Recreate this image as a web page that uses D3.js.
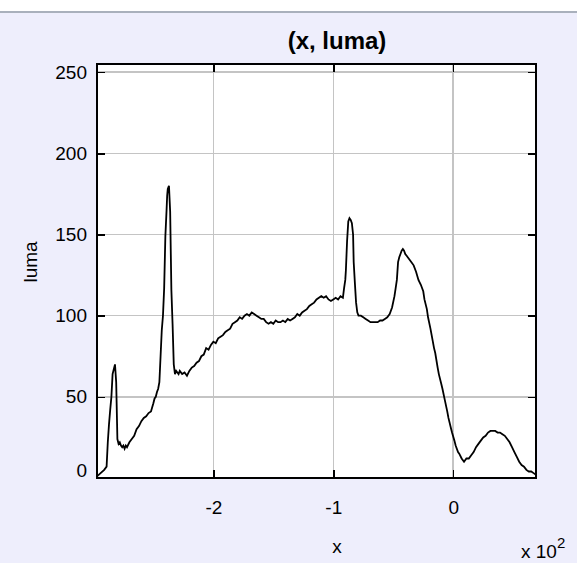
<!DOCTYPE html>
<html>
<head>
<meta charset="utf-8">
<script src="https://cdn.jsdelivr.net/npm/d3@7"></script>
<style>
  html, body { margin: 0; padding: 0; background: #ffffff; }
  svg { display: block; }
  text { font-family: "Liberation Sans", Arial, sans-serif; fill: #000; }
</style>
</head>
<body>
<svg id="chart" width="577" height="563"></svg>
<script>
// Luma profile sampled along x (x in units, shown on the axis as x 10^2)
const xValues = [
  -297, -294, -291, -289, -288, -287, -286, -285, -284, -283, -282, -281, -280, -279, -278, -277,
  -276, -275, -274, -273, -272, -270, -268, -266, -264, -262, -260, -258, -256, -254, -252, -250,
  -249, -248, -247, -246, -245, -244, -243, -242, -241, -240, -239, -238.5, -238, -237, -236, -235,
  -234, -233, -232, -231, -230, -229, -228, -226, -224, -222, -220, -218, -216, -214, -212, -210,
  -208, -206, -204, -202, -200, -198, -196, -194, -192, -190, -188, -186, -184, -182, -180, -178,
  -176, -174, -172, -170, -168, -166, -164, -162, -160, -158, -156, -154, -152, -150, -148, -146,
  -144, -142, -140, -138, -136, -134, -132, -130, -128, -126, -124, -122, -120, -118, -116, -114,
  -112, -110, -108, -106, -104, -102, -100, -98, -96, -94, -92, -91, -90, -89.5, -88.5, -87.5,
  -86.5, -85.5, -84.5, -83.5, -83, -82, -81, -80, -79, -77, -75, -73, -71, -69, -67, -65,
  -63, -61, -59, -57, -55, -53, -51, -49, -48, -47, -46, -45, -44, -43, -42, -41,
  -40, -39, -37, -35, -33, -31, -29, -27, -25, -24, -22, -21, -19, -18, -16, -15,
  -13, -12, -10, -9, -7, -5, -4, -2, -1, 1, 2, 4, 5, 7, 9, 11,
  13, 15, 17, 19, 21, 23, 25, 27, 29, 31, 33, 35, 37, 39, 41, 43,
  45, 47, 49, 51, 53, 55, 57, 59, 61, 63, 65, 67, 69
];
const lumaValues = [
  1, 3, 5, 7, 22, 33, 42, 50, 64, 67, 70, 59, 24, 21, 22, 20,
  19, 20, 18, 20, 19, 22, 24, 26, 30, 32, 35, 37, 38, 40, 41, 46,
  49, 50, 53, 55, 59, 75, 91, 100, 117, 149, 165, 174, 178, 180, 164, 116,
  95, 70, 64, 66, 65, 64, 66, 64, 65, 63, 66, 68, 69, 71, 72, 75,
  76, 80, 79, 82, 84, 83, 86, 87, 88, 90, 91, 92, 95, 96, 97, 99,
  98, 100, 101, 100, 102, 101, 100, 99, 98, 98, 96, 95, 96, 95, 97, 96,
  96, 97, 96, 98, 97, 98, 99, 101, 100, 102, 103, 104, 106, 107, 108, 110,
  111, 112, 111, 112, 110, 109, 110, 111, 110, 112, 111, 117, 122, 128, 146, 158,
  160, 159, 157, 150, 133, 120, 108, 102, 100, 100, 99, 98, 97, 96, 96, 96,
  96, 97, 97, 98, 99, 101, 105, 112, 117, 122, 133, 136, 138, 140, 141, 140,
  138, 137, 135, 133, 131, 127, 122, 119, 115, 110, 104, 99, 92, 88, 80, 77,
  68, 64, 58, 55, 48, 41, 37, 31, 28, 23, 20, 16, 15, 12, 10, 12,
  12, 14, 16, 19, 21, 23, 25, 26, 28, 29, 29, 29, 28, 28, 27, 26,
  24, 22, 19, 16, 13, 10, 8, 7, 5, 4, 4, 3, 2
];

const xDomain = [-297, 69];
const yDomain = [0, 255];
const xTicks = [-200, -100, 0];
const xTickLabels = ["-2", "-1", "0"];
const yTicks = [0, 50, 100, 150, 200, 250];

const titleText = "(x, luma)";
const xLabelText = "x";
const yLabelText = "luma";

const W = 577, H = 563;
const box = { left: 97, right: 536, top: 64, bottom: 478 };
const labelCenterX = 337;

const svg = d3.select("#chart");

// figure background
svg.append("rect").attr("x", 0).attr("y", 0).attr("width", W).attr("height", H).attr("fill", "#ffffff");
svg.append("rect").attr("x", 0).attr("y", 11).attr("width", W).attr("height", H - 11).attr("fill", "#eeeefc");
svg.append("rect").attr("x", 0).attr("y", 11).attr("width", W).attr("height", 2).attr("fill", "#a9b0bc");

const x = d3.scaleLinear().domain(xDomain).range([box.left, box.right]);
const y = d3.scaleLinear().domain(yDomain).range([box.bottom, box.top]);

// plot area
svg.append("rect")
  .attr("x", box.left).attr("y", box.top)
  .attr("width", box.right - box.left).attr("height", box.bottom - box.top)
  .attr("fill", "#ffffff");

// grid
const grid = svg.append("g").attr("shape-rendering", "crispEdges");
grid.selectAll("line.gx").data(xTicks).join("line")
  .attr("x1", d => x(d)).attr("x2", d => x(d))
  .attr("y1", box.top).attr("y2", box.bottom)
  .attr("stroke", "#c4c4c4").attr("stroke-width", 1.5);
grid.selectAll("line.gy").data(yTicks).join("line")
  .attr("x1", box.left).attr("x2", box.right)
  .attr("y1", d => y(d)).attr("y2", d => y(d))
  .attr("stroke", "#c4c4c4").attr("stroke-width", 1.5);

// data line
const pts = xValues.map((v, i) => [v, lumaValues[i]]);
const line = d3.line().x(d => x(d[0])).y(d => y(d[1]));
svg.append("path")
  .datum(pts)
  .attr("d", line)
  .attr("fill", "none")
  .attr("stroke", "#000")
  .attr("stroke-width", 1.8)
  .attr("stroke-linejoin", "miter");

// axes with inward ticks on all four sides
const tickLen = 8;
const axes = svg.append("g").attr("shape-rendering", "crispEdges");
const bottomAxis = d3.axisBottom(x).tickValues(xTicks).tickSize(-tickLen).tickFormat((d, i) => xTickLabels[i]).tickPadding(23);
const topAxis = d3.axisTop(x).tickValues(xTicks).tickSize(-tickLen).tickFormat("");
const leftAxis = d3.axisLeft(y).tickValues(yTicks).tickSize(-tickLen).tickPadding(10);
const rightAxis = d3.axisRight(y).tickValues(yTicks).tickSize(-tickLen).tickFormat("");

function styleAxis(g) {
  g.select(".domain").remove();
  g.selectAll(".tick line").attr("stroke", "#000").attr("stroke-width", 1.5);
  g.selectAll(".tick text").attr("font-size", 19).attr("font-family", "Liberation Sans, Arial, sans-serif").attr("fill", "#000");
}

const gB = axes.append("g").attr("transform", `translate(0,${box.bottom})`).call(bottomAxis).call(styleAxis);
const gT = axes.append("g").attr("transform", `translate(0,${box.top})`).call(topAxis).call(styleAxis);
const gL = axes.append("g").attr("transform", `translate(${box.left},0)`).call(leftAxis).call(styleAxis);
const gR = axes.append("g").attr("transform", `translate(${box.right},0)`).call(rightAxis).call(styleAxis);

// the lowest y label sits a little above its tick so it clears the x labels
gL.selectAll(".tick").filter(d => d === 0).select("text").attr("y", -8);

// axes box
axes.append("rect")
  .attr("x", box.left).attr("y", box.top)
  .attr("width", box.right - box.left).attr("height", box.bottom - box.top)
  .attr("fill", "none").attr("stroke", "#000").attr("stroke-width", 2);

// title and labels
svg.append("text").attr("x", labelCenterX).attr("y", 49).attr("text-anchor", "middle")
  .attr("font-size", 24).attr("font-weight", "bold").text(titleText);
svg.append("text").attr("x", labelCenterX).attr("y", 553).attr("text-anchor", "middle")
  .attr("font-size", 19).text(xLabelText);
svg.append("text").attr("transform", `translate(37,262) rotate(-90)`)
  .attr("text-anchor", "middle").attr("font-size", 19).text(yLabelText);

// exponent marker for the x axis
const expo = svg.append("text").attr("x", 521).attr("y", 558).attr("font-size", 19);
expo.append("tspan").text("x 10");
expo.append("tspan").attr("dy", -10).attr("font-size", 15).text("2");
</script>
</body>
</html>
